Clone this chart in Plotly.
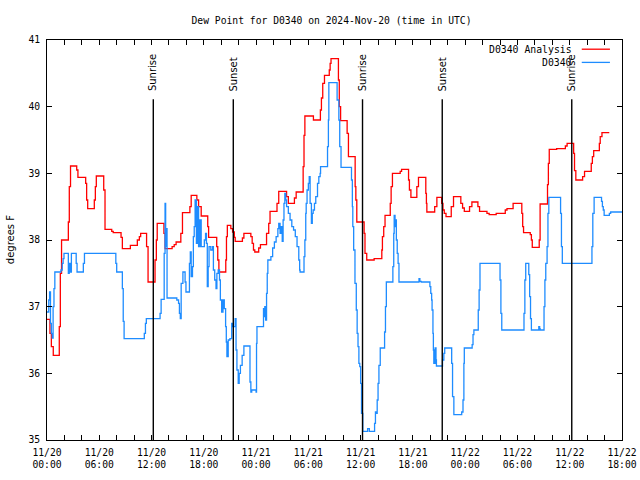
import pandas as pd
import plotly.graph_objects as go

# ---------------- data ----------------
START = "2024-11-20 00:00"
END = "2024-11-22 18:00"

analysis_name = "D0340 Analysis"
analysis_hours = [0.0, 0.34, 0.5, 0.72, 1.41, 1.53, 1.67, 2.45, 2.56, 2.7, 3.41, 3.55, 4.44, 4.55, 4.67,
                  5.43, 5.55, 5.66, 6.51, 6.66, 7.43, 7.6, 8.5, 8.65, 9.57, 10.37, 10.6, 10.75, 11.43, 11.6,
                  12.4, 12.55, 12.65, 13.42, 13.55, 14.36, 14.6, 14.82, 15.36, 15.55, 16.4, 16.55, 17.2, 17.4,
                  17.7, 18.45, 18.55, 19.48, 19.6, 19.73, 20.52, 20.6, 20.7, 21.1, 21.3, 21.5, 21.6, 22.43,
                  22.6, 23.4, 23.55, 23.7, 23.85, 24.3, 24.5, 25.2, 25.45, 25.6, 26.4, 26.6, 27.5, 27.7, 28.4,
                  28.6, 29.4, 29.5, 29.6, 30.58, 31.38, 31.5, 31.65, 31.85, 32.4, 32.5, 32.6, 33.45, 33.55,
                  33.7, 34.45, 34.6, 35.37, 35.45, 35.56, 36.4, 36.5, 36.7, 37.55, 38.43, 38.5, 38.65, 38.8,
                  39.4, 39.5, 39.65, 40.54, 40.7, 41.5, 41.6, 41.77, 42.45, 42.64, 43.48, 43.55, 43.6, 44.5,
                  44.75, 45.3, 45.45, 45.6, 45.8, 46.4, 46.66, 47.5, 47.7, 47.9, 48.5, 48.77, 49.46, 49.65,
                  50.5, 50.75, 51.56, 52.6, 52.8, 53.5, 54.5, 54.6, 54.7, 55.47, 55.6, 55.7, 56.5, 56.6,
                  57.45, 57.55, 57.65, 58.5, 59.5, 59.7, 60.45, 60.55, 60.7, 61.48, 61.7, 62.47, 62.6, 62.75,
                  63.4, 63.5, 63.7, 64.54]
analysis_values = [36.81, 36.6, 36.4, 36.27, 36.7, 37.5, 38.0, 38.27, 38.8, 39.11, 39.05, 38.94, 38.85, 38.6, 38.47,
                   38.6, 38.8, 38.96, 38.75, 38.16, 38.13, 38.11, 38.04, 37.87, 37.92, 38.0, 38.05, 38.1, 37.9, 37.37,
                   37.7, 38.0, 38.25, 38.1, 37.87, 37.9, 37.93, 37.97, 38.1, 38.41, 38.5, 38.67, 38.6, 38.5,
                   38.36, 38.2, 38.04, 37.9, 37.7, 37.52, 37.7, 38.05, 38.22, 38.17, 38.12, 38.04, 37.98, 38.03,
                   38.1, 38.05, 37.95, 37.85, 37.82, 37.88, 37.93, 38.1, 38.25, 38.43, 38.55, 38.73, 38.65, 38.55, 38.63,
                   38.72, 39.1, 39.57, 39.86, 39.8, 39.95, 40.13, 40.35, 40.47, 40.55, 40.65, 40.72, 40.4, 40.0,
                   39.79, 39.6, 39.25, 38.8, 38.6, 38.27, 38.1, 37.8, 37.7, 37.72, 37.85, 38.05, 38.2, 38.37,
                   38.55, 38.8, 39.0, 39.03, 39.06, 38.9, 38.75, 38.64, 38.8, 38.94, 38.7, 38.55, 38.42, 38.5,
                   38.64, 38.55, 38.45, 38.4, 38.35, 38.5, 38.65, 38.55, 38.48, 38.43, 38.5, 38.57, 38.5, 38.43,
                   38.4, 38.38, 38.4, 38.45, 38.47, 38.55, 38.4, 38.2, 38.11, 38.08, 38.0, 37.89, 38.0, 38.54,
                   38.83, 39.15, 39.36, 39.37, 39.41, 39.45, 39.3, 39.04, 38.9, 38.95, 39.03, 39.15, 39.25, 39.34,
                   39.45, 39.55, 39.61, 39.61]

obs_name = "D0340"
obs_hours = [0.0, 0.2, 0.3, 0.4, 0.5, 0.6, 0.7, 0.8, 0.9, 1.6, 1.75, 1.85, 1.95, 2.45, 2.55, 2.65, 2.8,
             3.35, 3.45, 4.17, 4.3, 7.9, 8.0, 8.65, 8.75, 8.85, 11.17, 11.3, 11.4, 12.98, 13.1, 13.45,
             13.55, 13.62, 13.7, 13.78, 14.9, 15.1, 15.2, 15.3, 15.4, 15.6, 15.85, 15.95, 16.35, 16.45,
             16.55, 16.7, 16.8, 16.9, 17.0, 17.15, 17.3, 17.4, 17.55, 17.7, 18.06, 18.2, 18.3, 18.4, 18.5,
             18.6, 18.8, 19.0, 19.1, 19.25, 19.4, 19.5, 19.65, 19.8, 19.9, 20.05, 20.2, 20.35, 20.5, 20.58,
             20.65, 20.8, 21.0, 21.2, 21.35, 21.6, 21.7, 21.8, 21.95, 22.06, 22.2, 22.4, 22.6, 23.3, 23.4,
             23.5, 24.0, 24.05, 24.1, 24.85, 24.9, 25.0, 25.1, 25.2, 25.28, 25.35, 25.7, 25.9, 26.1, 26.3,
             26.5, 26.6, 26.75, 26.9, 27.0, 27.1, 27.2, 27.3, 27.4, 27.5, 27.7, 27.9, 28.1, 28.3, 28.5,
             28.7, 28.9, 29.0, 29.05, 29.5, 29.6, 29.7, 29.75, 29.85, 30.0, 30.1, 30.2, 30.35, 30.45, 30.55,
             30.7, 30.85, 31.05, 31.2, 31.35, 31.4, 32.2, 32.3, 32.35, 33.3, 33.5, 33.6, 33.75,
             34.95, 35.05, 35.1, 35.2, 35.35, 35.5, 35.6, 35.7, 35.8, 35.9, 36.0, 36.1, 36.25,
             36.8, 37.0, 37.6, 37.7, 37.8, 37.9, 38.0, 38.1, 38.25, 38.75, 38.85, 38.95, 39.7, 39.8,
             39.85, 39.95, 40.0, 40.1, 40.2, 40.3, 40.4, 42.7, 42.8, 42.95, 43.95, 44.05, 44.15, 44.2,
             44.3, 44.35, 44.4, 44.45, 44.5, 44.55, 44.65, 44.7, 45.4, 45.55, 45.65, 46.45, 46.55, 46.7,
             47.6, 47.75, 47.85, 47.9, 48.8, 48.9, 49.0, 49.5, 49.6, 49.7, 52.0, 52.1, 52.2, 54.75, 54.85,
             54.95, 55.3, 55.4, 55.5, 55.6, 56.45, 56.55, 56.6, 57.05, 57.15, 57.25, 57.4, 57.5, 57.6,
             58.95, 59.05, 59.15, 62.55, 62.65, 62.8, 63.65, 63.75, 63.85, 63.95, 64.55, 64.7, 66.0]
obs_values = [36.92, 37.1, 37.22, 36.75, 36.6, 36.53, 37.0, 37.27, 37.52, 37.55, 37.65, 37.72, 37.8, 37.5, 37.65, 37.52, 37.8,
              37.65, 37.52, 37.65, 37.8, 37.65, 37.52, 37.27, 36.78, 36.52, 36.6, 36.75, 36.82, 36.9, 37.11, 37.8,
              38.55, 37.9, 38.17, 37.13, 37.1, 37.05, 36.9, 36.82, 37.35, 37.52, 37.37, 37.22, 37.65, 37.82,
              37.45, 37.6, 38.05, 38.2, 38.6, 37.95, 38.5, 37.9, 38.3, 37.9, 38.0, 38.1, 37.95, 37.3, 37.6,
              37.9, 37.85, 37.9, 37.55, 37.4, 37.27, 37.5, 37.55, 37.4, 37.1, 36.92, 37.1, 36.97, 36.7, 36.47,
              36.25, 36.5, 36.52, 36.75, 36.7, 36.82, 36.35, 36.05, 35.85, 36.0, 36.12, 36.27, 36.41, 35.87, 35.72,
              35.75, 35.72, 36.45, 36.7, 36.97, 36.85, 37.0, 36.8, 37.2, 37.5, 37.7, 37.75, 37.88, 37.97, 38.05,
              38.17, 38.25, 38.1, 38.2, 37.98, 38.3, 38.55, 38.7, 38.6, 38.5, 38.4, 38.3, 38.2, 38.15, 38.05,
              37.9, 37.7, 37.55, 37.52, 37.75, 38.0, 38.4, 38.55, 38.75, 38.85, 38.95, 38.55, 38.25, 38.4, 38.45,
              38.55, 38.65, 38.85, 38.95, 39.0, 39.1, 39.4, 39.8, 40.36, 40.1, 39.8, 39.4, 39.09,
              38.9, 38.5, 38.2, 37.85, 37.35, 36.95, 36.6, 36.4, 36.15, 36.1, 35.85, 35.4, 35.13,
              35.17, 35.13, 35.25, 35.42, 35.4, 35.6, 35.85, 36.12, 36.38, 36.62, 37.0, 37.37, 37.6, 38.1,
              38.37, 38.2, 38.3, 38.0, 37.8, 37.65, 37.37, 37.42, 37.38, 37.37, 37.3, 37.2, 37.1, 36.95,
              36.6, 36.35, 36.15, 36.3, 36.15, 36.38, 36.2, 36.11, 36.2, 36.3, 36.38, 36.15, 35.65, 35.38,
              35.42, 35.6, 36.15, 36.38, 36.43, 36.58, 36.65, 36.95, 37.25, 37.65, 37.4, 36.9, 36.65, 36.9, 37.4,
              37.65, 37.48, 37.15, 36.82, 36.65, 36.7, 36.67, 36.65, 37.0, 37.4, 37.65, 37.9, 38.4, 38.64,
              38.4, 37.9, 37.65, 37.9, 38.4, 38.64, 38.58, 38.5, 38.45, 38.37, 38.4, 38.42, 38.42]

sun_labels = ["Sunrise", "Sunset", "Sunrise", "Sunset", "Sunrise"]
sun_times = ["2024-11-20 12:12", "2024-11-20 21:23", "2024-11-21 12:13",
             "2024-11-21 21:22", "2024-11-22 12:14"]

title_text = "Dew Point for D0340 on 2024-Nov-20 (time in UTC)"
y_label = "degrees F"
y_range = [35, 41]

# ---------------- build ----------------
start = pd.Timestamp(START)
end = pd.Timestamp(END)
t_analysis = start + pd.to_timedelta(analysis_hours, unit="h")
t_obs = start + pd.to_timedelta(obs_hours, unit="h")

RED = "#ff0000"
BLUE = "#1e8cff"
MONO = "DejaVu Sans Mono"
SANS = "DejaVu Sans"

fig = go.Figure()
fig.add_trace(go.Scatter(x=t_analysis, y=analysis_values, mode="lines", name=analysis_name,
                         line=dict(color=RED, width=1.3, shape="hv")))
fig.add_trace(go.Scatter(x=t_obs, y=obs_values, mode="lines", name=obs_name,
                         line=dict(color=BLUE, width=1.3, shape="hv")))

# sunrise / sunset markers
for lab, ts in zip(sun_labels, sun_times):
    fig.add_shape(type="line", xref="x", yref="y", x0=ts, x1=ts, y0=y_range[0], y1=40.11,
                  line=dict(color="black", width=1.4))
    fig.add_annotation(x=ts, y=40.2, xref="x", yref="y", text=lab, textangle=-90,
                       showarrow=False, xanchor="center", yanchor="bottom",
                       font=dict(family=SANS, size=10, color="black"))

# manual legend (text then line sample, as in reference)
for i, (nm, col) in enumerate([(analysis_name, RED), (obs_name, BLUE)]):
    yy = 0.977 - i * 0.033
    fig.add_annotation(x=0.916, y=yy, xref="paper", yref="paper", text=nm, showarrow=False,
                       xanchor="right", yanchor="middle", font=dict(family=MONO, size=9.8, color="black"))
    fig.add_shape(type="line", xref="paper", yref="paper", x0=0.930, x1=0.979, y0=yy, y1=yy,
                  line=dict(color=col, width=1.3))

# y label
fig.add_annotation(x=-0.064, y=0.5, xref="paper", yref="paper", text=y_label, textangle=-90,
                   showarrow=False, xanchor="center", yanchor="middle",
                   font=dict(family=SANS, size=10, color="black"))

tickvals = pd.date_range(start, end, freq="6h")
ticktext = [f"{t.month}/{t.day}<br>{t:%H:%M}" for t in tickvals]

fig.update_layout(
    width=640, height=480,
    margin=dict(l=47, r=18, t=40, b=40, autoexpand=False),
    paper_bgcolor="white", plot_bgcolor="white",
    showlegend=False,
    title=dict(text=title_text, x=0.518, xref="container", y=0.958, yref="container",
               xanchor="center", yanchor="middle", font=dict(family=MONO, size=9.7, color="black")),
)
fig.update_xaxes(range=[start, end], tickvals=tickvals, ticktext=ticktext, automargin=False,
                 ticks="inside", ticklen=5, tickcolor="black", showline=True, linecolor="black",
                 linewidth=1, mirror="ticks", showgrid=False, zeroline=False, ticklabelstandoff=3,
                 tickfont=dict(family=MONO, size=9.7, color="black"),
                 minor=dict(tickvals=pd.date_range(start, end, freq="2h"), ticks="inside",
                            ticklen=5, tickcolor="black", showgrid=False))
fig.update_yaxes(range=y_range, dtick=1, ticks="inside", ticklen=5, tickcolor="black", automargin=False,
                 showline=True, linecolor="black", linewidth=1, mirror="ticks",
                 showgrid=False, zeroline=False, ticklabelstandoff=4,
                 tickfont=dict(family=MONO, size=9.7, color="black"))

# remove the browser's default 8px body margin so the 640x480 figure fills the window
fig.write_html("out.html", config={"displayModeBar": False},
               post_script="document.body.style.margin='0';document.body.style.overflow='hidden';")
